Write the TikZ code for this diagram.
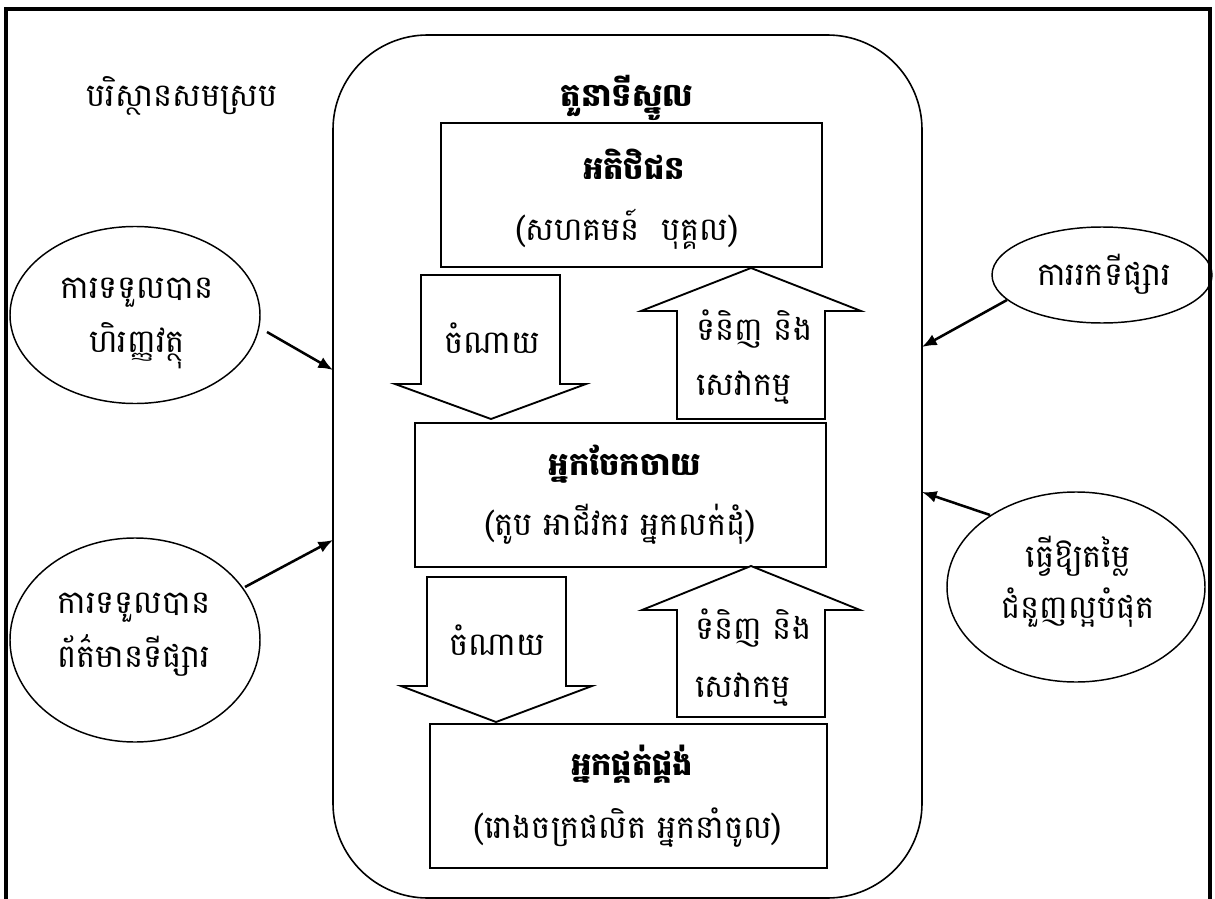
\documentclass[tikz,border=0pt]{standalone}
\usepackage{fontspec}
\newfontfamily\khmer[Script=Khmer]{Battambang}
\usetikzlibrary{shapes.geometric,arrows.meta}
\newcommand{\kh}{\khmer\fontsize{24}{30}\selectfont}
\newcommand{\khb}{\khmer\bfseries\fontsize{24}{30}\selectfont}
\begin{document}
\begin{tikzpicture}[x=0.75pt,y=-0.75pt,
  frame/.style={line width=2.6pt},
  box/.style={draw, line width=1.1pt, inner sep=0pt},
  blockarrow/.style={draw, line width=1.4pt, line join=miter, fill=white},
  oval/.style={draw, ellipse, line width=1.1pt, inner sep=0pt},
  conn/.style={line width=1.9pt, -{Latex[length=11pt,width=9pt]}},
  txt/.style={font=\kh, inner sep=0pt, anchor=base},
  btxt/.style={font=\khb, inner sep=0pt, anchor=base},
  ltxt/.style={font=\kh, inner sep=0pt, anchor=base west}]
\useasboundingbox (0,0) rectangle (1215,899);
% outer frame
\draw[frame] (6,905) -- (6,9) -- (1210,9) -- (1210,905);
% core rounded box
\node[box, line width=1.2pt, rounded corners=71pt, minimum width={589*0.75pt}, minimum height={863*0.75pt}] (core) at (627.5,466.5) {};
\node[txt] (title) at (627,107) {\khb តួនាទីស្នូល};
\node[txt] (env) at (182,107) {បរិស្ថានសមស្រប};
% boxes
\node[box, minimum width={381*0.75pt}, minimum height={144*0.75pt}] (cust) at (631.5,195) {};
\node[btxt] (custt) at (634,180) {អតិថិជន};
\node[txt] (custs) at (627,240) {(សហគមន៍ \ បុគ្គល)};
\node[box, minimum width={411*0.75pt}, minimum height={144*0.75pt}] (dist) at (620.5,495) {};
\node[btxt] (distt) at (625,475) {អ្នកចែកចាយ};
\node[txt] (dists) at (620,535) {(តូប អាជីវករ អ្នកលក់ដុំ)};
\node[box, minimum width={397*0.75pt}, minimum height={144*0.75pt}] (supp) at (628.5,796) {};
\node[btxt] (suppt) at (632,775) {អ្នកផ្គត់ផ្គង់};
\node[txt] (supps) at (628,838) {(រោងចក្រផលិត អ្នកនាំចូល)};
% block arrows, upper
\draw[blockarrow] (421,275) -- (560,275) -- (560,384) -- (586,384) -- (491,419) -- (395,384) -- (421,384) -- cycle;
\node[txt] (exp1) at (492,353) {ចំណាយ};
\draw[blockarrow] (751,268) -- (861,311) -- (825,311) -- (825,419) -- (677,419) -- (677,311) -- (641,311) -- cycle;
\node[ltxt] (gs1a) at (696,340) {ទំនិញ និង};
\node[ltxt] (gs1b) at (696,395) {សេវាកម្ម};
% block arrows, lower
\draw[blockarrow] (427,577) -- (566,577) -- (566,686) -- (592,686) -- (496,722) -- (401,686) -- (427,686) -- cycle;
\node[txt] (exp2) at (497,655) {ចំណាយ};
\draw[blockarrow] (751,566) -- (860,610) -- (825,610) -- (825,717) -- (677,717) -- (677,610) -- (642,610) -- cycle;
\node[ltxt] (gs2a) at (695,639) {ទំនិញ និង};
\node[ltxt] (gs2b) at (695,697) {សេវាកម្ម};
% ovals
\node[oval, minimum width={250*0.75pt}, minimum height={177*0.75pt}] (fin) at (135,315) {};
\node[txt] (fina) at (137,298) {ការទទួលបាន};
\node[txt] (finb) at (137,352) {ហិរញ្ញវត្ថុ};
\node[oval, minimum width={250*0.75pt}, minimum height={204*0.75pt}] (info) at (135,640) {};
\node[txt] (infoa) at (134,613) {ការទទួលបាន};
\node[txt] (infob) at (134,667) {ព័ត៌មានទីផ្សារ};
\node[oval, minimum width={220*0.75pt}, minimum height={96*0.75pt}] (mkt) at (1102,275) {};
\node[txt] (mktt) at (1104,285) {ការរកទីផ្សារ};
\node[oval, minimum width={258*0.75pt}, minimum height={190*0.75pt}] (val) at (1076,587) {};
\node[txt] (vala) at (1078,567) {ធ្វើឱ្យតម្លៃ};
\node[txt] (valb) at (1078,618) {ជំនួញល្អបំផុត};
% connectors
\coordinate (f0) at (267,332); \coordinate (f1) at (333,370);
\coordinate (i0) at (245,587); \coordinate (i1) at (333,540);
\coordinate (m0) at (1007,300); \coordinate (m1) at (922,347);
\coordinate (v0) at (990,515); \coordinate (v1) at (922,492);
\draw[conn] (f0) -- (f1);
\draw[conn] (i0) -- (i1);
\draw[conn] (m0) -- (m1);
\draw[conn] (v0) -- (v1);
\end{tikzpicture}
\end{document}
